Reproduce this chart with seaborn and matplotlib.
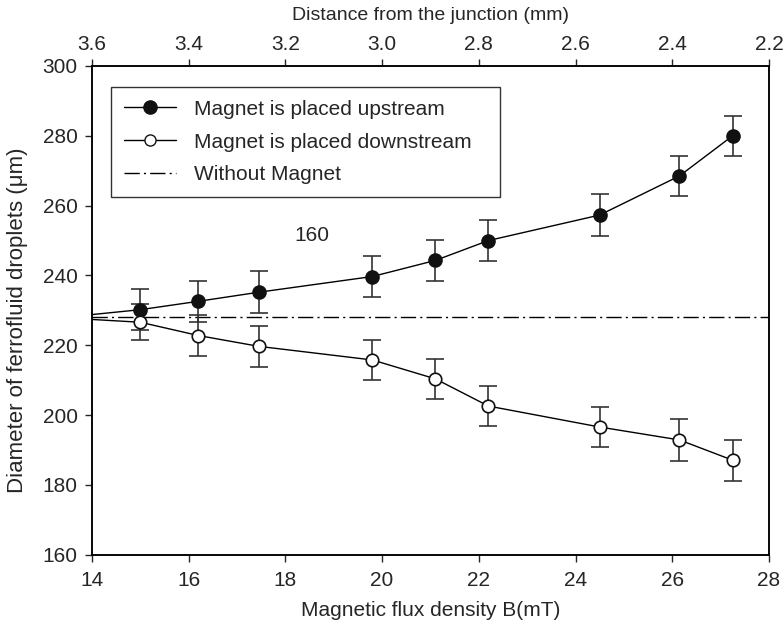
import numpy as np
import matplotlib
matplotlib.use("Agg")
import matplotlib.pyplot as plt
from matplotlib.lines import Line2D
import seaborn as sns

# -------------------------------
# Data
# -------------------------------
B_field = [15.0, 16.2, 17.45, 19.8, 21.1, 22.2, 24.5, 26.15, 27.25]
up_diam = [230.2, 232.6, 235.2, 239.7, 244.3, 250.0, 257.3, 268.5, 280.0]
up_err = [5.8, 5.8, 6.0, 5.8, 5.9, 6.0, 5.9, 5.7, 5.8]
down_diam = [226.6, 222.8, 219.7, 215.8, 210.4, 202.6, 196.6, 192.9, 187.1]
down_err = [5.2, 5.8, 5.8, 5.8, 5.7, 5.8, 5.8, 5.9, 5.9]

# both series start from the no-magnet value at the axis
start_B = 14.0
start_up = 228.8
start_down = 227.4
no_magnet = 228.0

top_ticks = [3.6, 3.4, 3.2, 3.0, 2.8, 2.6, 2.4, 2.2]

# -------------------------------
# Style
# -------------------------------
FS = 15
sns.set_style("ticks")
plt.rcParams["font.family"] = ["Liberation Sans", "DejaVu Sans"]
plt.rcParams["font.size"] = FS
plt.rcParams["axes.linewidth"] = 1.1
plt.rcParams["xtick.major.width"] = 1.0
plt.rcParams["ytick.major.width"] = 1.0
plt.rcParams["xtick.major.size"] = 4.8
plt.rcParams["ytick.major.size"] = 4.8

fig = plt.figure(figsize=(7.83, 6.22), dpi=100)
ax = fig.add_axes([0.1175, 0.108, 0.8645, 0.786])

# lines
sns.lineplot(x=[start_B] + B_field, y=[start_up] + up_diam, ax=ax,
             color="black", lw=1.0, sort=False)
sns.lineplot(x=[start_B] + B_field, y=[start_down] + down_diam, ax=ax,
             color="black", lw=1.0, sort=False)

# markers with error bars
ax.errorbar(B_field, up_diam, yerr=up_err, fmt="o", ms=9.5, mfc="#111111",
            mec="#111111", ecolor="#333333", elinewidth=1.2, capsize=6.5,
            capthick=1.2, zorder=4)
ax.errorbar(B_field, down_diam, yerr=down_err, fmt="o", ms=9, mfc="white",
            mec="#111111", mew=1.2, ecolor="#333333", elinewidth=1.2,
            capsize=6.5, capthick=1.2, zorder=4)

# without magnet
base = ax.axhline(no_magnet, color="black", lw=1.0)
base.set_dashes((11, 3, 1.5, 3))

ax.set_xlim(14, 28)
ax.set_ylim(160, 300)
ax.set_xticks(np.arange(14, 29, 2))
ax.set_yticks(np.arange(160, 301, 20))
ax.set_xlabel("Magnetic flux density B(mT)", fontsize=FS, labelpad=8)
ax.set_ylabel("Diameter of ferrofluid droplets (\u03bcm)", fontsize=16)
ax.yaxis.set_label_coords(-0.095, 0.48)
ax.tick_params(axis="x", direction="out", labelsize=FS, pad=7)
ax.tick_params(axis="y", direction="out", labelsize=FS, pad=5.5)

ax.text(18.55, 251.4, "160", fontsize=FS, ha="center", va="center")

# top axis
ax2 = ax.twiny()
ax2.set_xlim(3.6, 2.2)
ax2.set_xticks(top_ticks)
ax2.set_xticklabels(["%.1f" % t for t in top_ticks])
ax2.set_xlabel("Distance from the junction (mm)", fontsize=14, labelpad=11)
ax2.tick_params(direction="out", labelsize=FS, pad=3.5)

for a in (ax, ax2):
    for s in a.spines.values():
        s.set_visible(True)
        s.set_color("black")

# legend
handles = [
    Line2D([], [], color="black", lw=1.0, marker="o", ms=9.5,
           mfc="#111111", mec="#111111"),
    Line2D([], [], color="black", lw=1.0, marker="o", ms=8,
           mfc="white", mec="#111111"),
    Line2D([], [], color="black", lw=1.0, dashes=(11, 3, 1.5, 3)),
]
labels = ["Magnet is placed upstream", "Magnet is placed downstream",
          "Without Magnet"]
leg = ax.legend(handles, labels, loc="upper left",
                bbox_to_anchor=(0.0276, 0.6, 0.575, 0.3576), mode="expand",
                fontsize=FS, frameon=True, fancybox=False, edgecolor="black",
                handlelength=2.5, handletextpad=0.9, labelspacing=0.67,
                borderpad=0.62, borderaxespad=0)
leg.get_frame().set_linewidth(1.0)

fig.savefig("out.png", dpi=100)
